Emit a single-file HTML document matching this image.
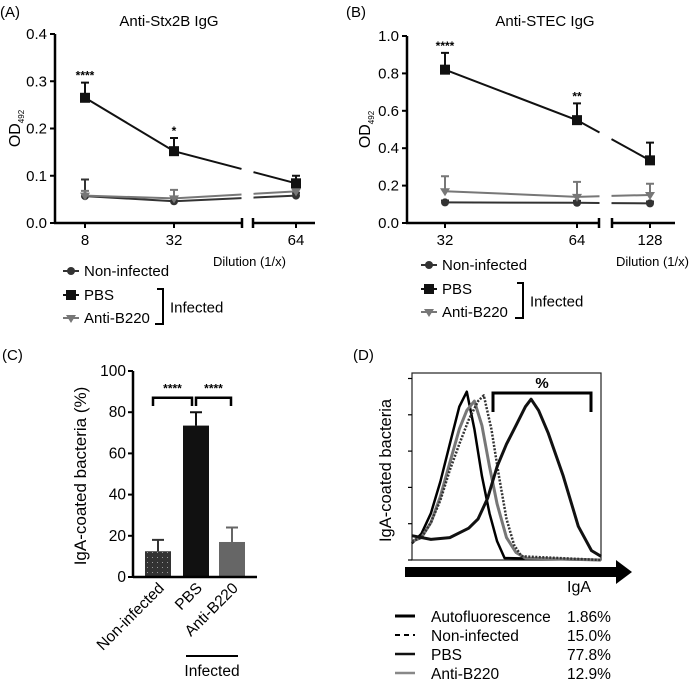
<!DOCTYPE html>
<html><head><meta charset="utf-8"><style>
html,body{margin:0;padding:0;background:#fff}
svg{display:block;font-family:"Liberation Sans",Arial,sans-serif}
</style></head><body>
<svg id="fig" width="689" height="680" viewBox="0 0 689 680" xmlns="http://www.w3.org/2000/svg">
<g id="A"></g>
<g id="B"></g>
<g id="C"></g>
<g id="D"></g>
</svg>
<script>
// ---- Panel A data ----
const aCats = ['8','32','64'];
const aPBS = [0.265,0.152,0.084];
const aPBSErr = [0.032,0.028,0.016];
const aNon = [0.057,0.046,0.058];
const aNonErr = [0.035,0.01,0.006];
const aB220 = [0.058,0.052,0.067];
const aB220Err = [0.01,0.018,0.006];
const aSig = ['****','*',''];
const aTicks = ['0.0','0.1','0.2','0.3','0.4'];
// ---- Panel B data ----
const bCats = ['32','64','128'];
const bPBS = [0.82,0.55,0.335];
const bPBSErr = [0.09,0.09,0.095];
const bNon = [0.11,0.108,0.105];
const bNonErr = [0.01,0.01,0.01];
const bB220 = [0.17,0.14,0.15];
const bB220Err = [0.08,0.08,0.06];
const bSig = ['****','**',''];
const bTicks = ['0.0','0.2','0.4','0.6','0.8','1.0'];
// ---- Panel C data ----
const cCats = ['Non-infected','PBS','Anti-B220'];
const cVals = [12.5,73.5,17];
const cErr = [5.5,6.5,7];
const cTicks = ['0','20','40','60','80','100'];
// ---- Panel D data ----
const dAutoX = [0,0.05,0.1,0.15,0.2,0.25,0.29,0.33,0.37,0.41,0.45,0.49,1];
const dAutoY = [0.09,0.14,0.25,0.42,0.62,0.82,0.9,0.7,0.45,0.25,0.1,0.01,0];
const dNonX = [0,0.05,0.1,0.15,0.2,0.25,0.3,0.35,0.38,0.42,0.46,0.5,0.54,0.58,1];
const dNonY = [0.1,0.12,0.2,0.32,0.48,0.62,0.75,0.85,0.88,0.7,0.45,0.22,0.08,0.02,0];
const dB220X = [0,0.05,0.1,0.15,0.2,0.25,0.29,0.33,0.37,0.41,0.45,0.5,0.55,0.6,1];
const dB220Y = [0.1,0.12,0.2,0.34,0.52,0.7,0.8,0.85,0.72,0.5,0.3,0.12,0.04,0.01,0];
const dPBSX = [0,0.1,0.2,0.3,0.35,0.4,0.45,0.5,0.55,0.6,0.63,0.67,0.72,0.8,0.88,0.95,1];
const dPBSY = [0.13,0.11,0.12,0.17,0.22,0.33,0.5,0.62,0.72,0.82,0.86,0.8,0.68,0.45,0.18,0.05,0.02];
const dLegend = ['Autofluorescence','Non-infected','PBS','Anti-B220'];
const dPct = ['1.86%','15.0%','77.8%','12.9%'];

const NS='http://www.w3.org/2000/svg';
function mk(parent,tag,attrs,text){const e=document.createElementNS(NS,tag);for(const k in attrs)e.setAttribute(k,attrs[k]);if(text!==undefined)e.textContent=text;parent.appendChild(e);return e;}

function linePanel(g,o){
  const y=v=>o.y0-(v/o.ymax)*(o.y0-o.y1);
  const x=i=>o.xs[i];
  let t=mk(g,'text',{x:o.lx,y:o.ly,'font-size':15},o.letter);
  
  t=mk(g,'text',{x:o.tx,y:26,'font-size':15,'text-anchor':'middle'},o.title);
  
  let ax=mk(g,'line',{x1:o.ax,y1:o.y1,x2:o.ax,y2:o.y0,stroke:'#000','stroke-width':2.5});
  
  o.ticks.forEach((lab,i)=>{const v=i*o.ymax/(o.ticks.length-1);
    mk(g,'line',{x1:o.ax-5,y1:y(v),x2:o.ax,y2:y(v),stroke:'#000','stroke-width':2});
    const tt=mk(g,'text',{x:o.ax-8,y:y(v)+5,'font-size':15,'text-anchor':'end'},lab);
    });
  ax=mk(g,'path',{d:`M${o.ax-1},${o.y0}H${o.b1}M${o.b1},${o.y0-5}V${o.y0+5}M${o.b2},${o.y0-5}V${o.y0+5}M${o.b2},${o.y0}H${o.xend}`,stroke:'#000','stroke-width':2.5,fill:'none'});
  
  o.cats.forEach((c,i)=>{mk(g,'line',{x1:x(i),y1:o.y0,x2:x(i),y2:o.y0+5,stroke:'#000','stroke-width':2});
    const tt=mk(g,'text',{x:x(i),y:o.y0+22,'font-size':15,'text-anchor':'middle'},c);
    });
  t=mk(g,'text',{x:o.dx,y:266,'font-size':13},'Dilution (1/x)');
  
  t=mk(g,'text',{transform:`translate(${o.odx},${(o.y0+o.y1)/2}) rotate(-90)`,'font-size':16,'text-anchor':'middle'});
  
  mk(t,'tspan',{},'OD');mk(t,'tspan',{'font-size':8,dy:4},'492');
  const series=[[o.non,o.nonE,'#333','circle','series-non-infected'],[o.b220,o.b220E,'#777','tri','series-anti-b220'],[o.pbs,o.pbsE,'#111','square','series-pbs']];
  const gap=(o.b1+o.b2)/2;
  series.forEach(([vals,errs,col,shape,name])=>{
    const sg=mk(g,'g',{});
    const xa=x(1),xb=x(2),ya=y(vals[1]),yb=y(vals[2]);
    const f1=(gap-6-xa)/(xb-xa),f2=(gap+6-xa)/(xb-xa);
    mk(sg,'path',{d:`M${x(0)},${y(vals[0])}L${xa},${ya}L${xa+f1*(xb-xa)},${ya+f1*(yb-ya)}M${xa+f2*(xb-xa)},${ya+f2*(yb-ya)}L${xb},${yb}`,stroke:col,'stroke-width':2,fill:'none'});
    vals.forEach((v,i)=>{
      const ey=y(v+errs[i]);
      const eb=mk(sg,'path',{d:`M${x(i)},${y(v)}V${ey}M${x(i)-4},${ey}H${x(i)+4}`,stroke:col,'stroke-width':2});
      
      let m;
      if(shape==='circle')m=mk(sg,'circle',{cx:x(i),cy:y(v),r:4,fill:col});
      else if(shape==='square')m=mk(sg,'rect',{x:x(i)-5,y:y(v)-5,width:10,height:10,fill:col});
      else m=mk(sg,'path',{d:`M${x(i)-5},${y(v)-3}H${x(i)+5}L${x(i)},${y(v)+5}Z`,fill:col});
      
    });
  });
  o.sig.forEach((s,i)=>{if(!s)return;const tt=mk(g,'text',{x:x(i),y:y(o.pbs[i]+o.pbsE[i])-3,'font-size':12,'font-weight':'bold','text-anchor':'middle'},s);
    });
  const lg=mk(g,'g',{});
  const items=[['Non-infected','#333','circle'],['PBS','#111','square'],['Anti-B220','#777','tri']];
  items.forEach(([lab,col,shape],i)=>{const ly=o.legY[i];const mx=o.legX+8;
    const e=mk(lg,'g',{});
    mk(e,'line',{x1:o.legX,y1:ly,x2:o.legX+16,y2:ly,stroke:col,'stroke-width':2});
    if(shape==='circle')mk(e,'circle',{cx:mx,cy:ly,r:4,fill:col});
    else if(shape==='square')mk(e,'rect',{x:mx-5,y:ly-5,width:10,height:10,fill:col});
    else mk(e,'path',{d:`M${mx-5},${ly-3}H${mx+5}L${mx},${ly+5}Z`,fill:col});
    mk(e,'text',{x:o.legX+21,y:ly+5,'font-size':15},lab);});
  mk(lg,'path',{d:`M${o.brX-6},${o.legY[1]-6}H${o.brX}V${o.legY[2]+6}H${o.brX-8}`,stroke:'#000','stroke-width':2,fill:'none'});
  mk(lg,'text',{x:o.brX+7,y:(o.legY[1]+o.legY[2])/2+6,'font-size':15},'Infected');
}
linePanel(document.getElementById('A'),{letter:'(A)',lx:0,ly:17,title:'Anti-Stx2B IgG',tx:169,ax:55,y0:223,y1:34,ymax:0.4,
  ticks:aTicks,xs:[85,174,296],b1:242,b2:253,xend:315,cats:aCats,dx:213,odx:20,
  pbs:aPBS,pbsE:aPBSErr,non:aNon,nonE:aNonErr,b220:aB220,b220E:aB220Err,sig:aSig,legX:63,legY:[271,295,318],brX:163});
linePanel(document.getElementById('B'),{letter:'(B)',lx:346,ly:17,title:'Anti-STEC IgG',tx:545,ax:407,y0:223,y1:36,ymax:1.0,
  ticks:bTicks,xs:[445,577,650],b1:599,b2:612,xend:675,cats:bCats,dx:616,odx:370,
  pbs:bPBS,pbsE:bPBSErr,non:bNon,nonE:bNonErr,b220:bB220,b220E:bB220Err,sig:bSig,legX:421,legY:[265,289,312],brX:523});

// ---- Panel C ----
(function(){
  const g=document.getElementById('C');
  const ax=133,y0=577,y1=371,ymax=100;
  const y=v=>y0-(v/ymax)*(y0-y1);
  const xc=[158,196,232];
  const cols=['#333','#111','#666'];
  let t=mk(g,'text',{x:2,y:360,'font-size':15},'(C)');
  
  t=mk(g,'text',{transform:`translate(86,${(y0+y1)/2+2}) rotate(-90)`,'font-size':17,'text-anchor':'middle'},'IgA-coated  bacteria (%)');
  
  mk(g,'defs',{}).innerHTML='<pattern id="dots" width="5" height="5" patternUnits="userSpaceOnUse"><rect width="5" height="5" fill="#333"/><rect x="2" y="2" width="1" height="1" fill="#999"/></pattern>';
  cVals.forEach((v,i)=>{
    const ey=y(v+cErr[i]);
    const eb=mk(g,'path',{d:`M${xc[i]},${y(v)}V${ey}M${xc[i]-6},${ey}H${xc[i]+6}`,stroke:cols[i],'stroke-width':2});
    
    const b=mk(g,'rect',{x:xc[i]-13,y:y(v),width:26,height:y0-y(v),fill:i===0?'url(#dots)':cols[i]});
    
    const l=mk(g,'text',{transform:`translate(${xc[i]+7},${y0+12}) rotate(-45)`,'font-size':15.5,'text-anchor':'end'},cCats[i]);
    
  });
  let a=mk(g,'line',{x1:ax,y1:y1,x2:ax,y2:y0+1,stroke:'#000','stroke-width':2.5});
  
  a=mk(g,'line',{x1:ax,y1:y0,x2:257,y2:y0,stroke:'#000','stroke-width':2.5});
  
  cTicks.forEach((lab,i)=>{const v=i*ymax/(cTicks.length-1);
    mk(g,'line',{x1:ax-5,y1:y(v),x2:ax,y2:y(v),stroke:'#000','stroke-width':2});
    const tt=mk(g,'text',{x:ax-7,y:y(v)+5,'font-size':15.5,'text-anchor':'end'},lab);
    });
  [[153,192],[196,231]].forEach(([a1,a2])=>{
    const br=mk(g,'path',{d:`M${a1},${y(83)}V${y(87)}H${a2}V${y(83)}`,stroke:'#000','stroke-width':2.5,fill:'none'});
    
    const s=mk(g,'text',{x:(a1+a2)/2,y:y(89.5),'font-size':12,'font-weight':'bold','text-anchor':'middle'},'****');
    });
  mk(g,'line',{x1:186,y1:656,x2:238,y2:656,stroke:'#000','stroke-width':2});
  t=mk(g,'text',{x:212,y:676,'font-size':15.5,'text-anchor':'middle'},'Infected');
  
})();

// ---- Panel D ----
(function(){
  const g=document.getElementById('D');
  const x0=412,x1=601,yb=560,yt=373;
  const X=f=>x0+f*(x1-x0), Y=h=>yb-h*(yb-yt);
  let t=mk(g,'text',{x:353,y:360,'font-size':15},'(D)');
  
  let r=mk(g,'rect',{x:x0,y:yt,width:x1-x0,height:yb-yt,fill:'none',stroke:'#222','stroke-width':1.2});
  
  [0,1,2,3,4,5].forEach(i=>mk(g,'line',{x1:x0-4,y1:yb-i*36.3,x2:x0,y2:yb-i*36.3,stroke:'#000','stroke-width':1.2}));
  t=mk(g,'text',{transform:`translate(391,${(yt+yb)/2+4}) rotate(-90)`,'font-size':16.5,'text-anchor':'middle'},'IgA-coated bacteria');
  
  const curves=[[dAutoX,dAutoY,'#000','none',2.5,'series-autofluorescence'],[dB220X,dB220Y,'#777','none',3,'series-anti-b220'],[dNonX,dNonY,'#333','2,1.5',2.5,'series-non-infected'],[dPBSX,dPBSY,'#111','none',3,'series-pbs']];
  curves.forEach(([xs,ys,col,dash,w,name])=>{
    let d='';xs.forEach((f,i)=>{d+=(i?'L':'M')+X(f).toFixed(1)+','+Y(ys[i]).toFixed(1);});
    const p=mk(g,'path',{d,stroke:col,'stroke-width':w,fill:'none','stroke-dasharray':dash,'stroke-linejoin':'round'});
    });
  const ax=mk(g,'path',{d:`M405,567H616V560L632,572L616,584V577H405Z`,fill:'#000'});
  
  t=mk(g,'text',{x:567,y:592,'font-size':16},'IgA');
  
  const gb=mk(g,'path',{d:'M493,412V393H591V412',stroke:'#000','stroke-width':3,fill:'none'});
  
  t=mk(g,'text',{x:542,y:388,'font-size':15,'font-weight':'bold','text-anchor':'middle'},'%');
  
  const ls=[['#000','none',3],['#000','5,4',2],['#111','none',2.5],['#888','none',2.5]];
  dLegend.forEach((lab,i)=>{const ly=616+i*19;
    const e=mk(g,'g',{});
    mk(e,'line',{x1:395,y1:ly,x2:415,y2:ly,stroke:ls[i][0],'stroke-width':ls[i][2],'stroke-dasharray':ls[i][1]});
    mk(e,'text',{x:431,y:ly+6,'font-size':15.5},lab);
    mk(e,'text',{x:567,y:ly+6,'font-size':15.5},dPct[i]);});
})();
</script>
</body></html>
